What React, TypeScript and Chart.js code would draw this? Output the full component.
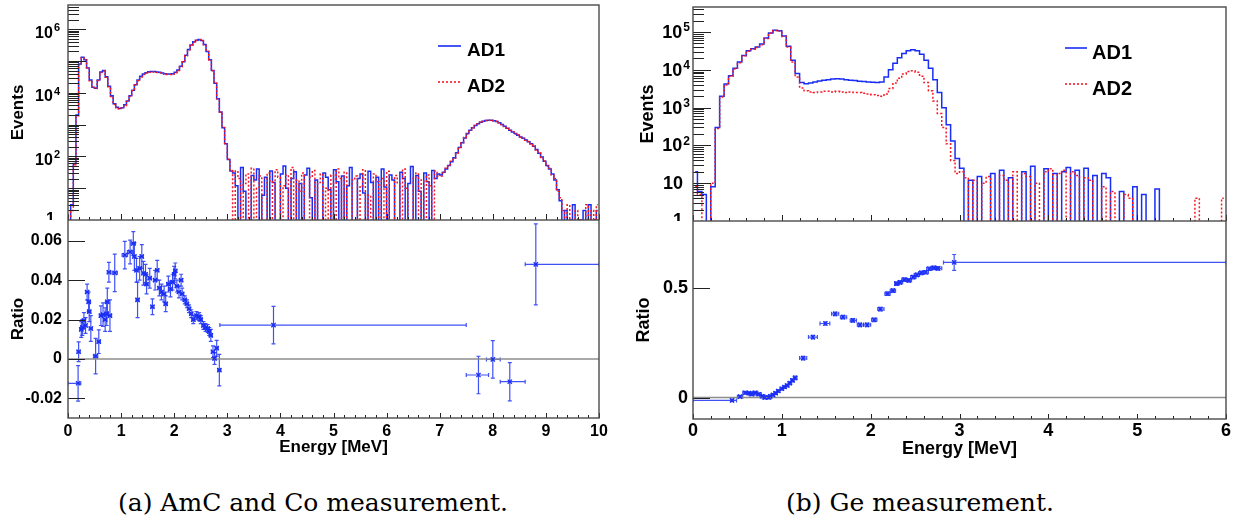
import React, { useEffect, useRef } from 'react';
import { Chart, registerables } from 'chart.js';
Chart.register(...registerables);

const FONT = "'Liberation Sans', Arial, Helvetica, sans-serif";
const BLUE = 'rgb(25,45,245)';
const RED = 'rgb(245,25,35)';

// ---------------- Panel (a): AmC and Co ----------------
const binWidthA = 0.05;
const ad1A = [
  0, 3, 60, 2000, 80000, 130000, 110000, 60000, 25000, 15000,
  14000, 25000, 45000, 50000, 32000, 16000, 8000, 4500, 3500, 3200,
  3400, 4200, 5500, 8000, 12000, 18000, 25000, 33000, 39000, 43000,
  46000, 47000, 47000, 45000, 44000, 42000, 40000, 39000, 39000, 40000,
  44000, 52000, 68000, 95000, 150000, 230000, 320000, 400000, 450000, 470000,
  440000, 330000, 200000, 110000, 50000, 20000, 6500, 2500, 800, 250,
  80, 35,
  30, 12, 0, 45, 8, 0, 0, 25, 18, 40, 0, 6, 22, 0, 35, 15, 0, 0, 28, 50,
  10, 0, 20, 33, 0, 14, 0, 26, 42, 5, 0, 18, 0, 0, 30, 22, 9, 0, 38, 16,
  0, 24, 0, 12, 45, 0, 0, 20, 28, 7, 0, 34, 15, 0, 22, 0, 40, 11, 0, 26,
  18, 0, 0, 32, 20, 0, 14, 48, 0, 25, 8, 0, 30, 16, 0, 36, 20, 28,
  26, 32, 40, 52, 68, 90, 130, 190, 270, 380,
  520, 660, 800, 930, 1060, 1180, 1270, 1340, 1380, 1370,
  1330, 1260, 1150, 1000, 880, 760, 660, 580, 520, 460,
  410, 370, 330, 290, 250, 210, 165, 125, 95, 70,
  52, 40, 28, 18, 9, 4,
  0, 2, 0, 1, 3, 0, 1, 0, 2, 0, 3, 0, 1, 2,
];
const ad2A = [
  0, 2, 55, 1900, 76000, 126000, 107000, 58000, 24000, 14500,
  13600, 24000, 43500, 48000, 31000, 15500, 7700, 4300, 3400, 3100,
  3300, 4000, 5300, 7700, 11500, 17200, 24000, 31500, 37500, 41500,
  44000, 45000, 45000, 43500, 42300, 40500, 38600, 37600, 37500, 38500,
  42300, 50200, 65800, 92000, 146000, 225000, 314000, 393000, 443000, 464000,
  436000, 326000, 197000, 108000, 49500, 19800, 6480, 2500, 810, 255,
  82, 36,
  0, 35, 20, 0, 14, 28, 0, 42, 0, 10, 24, 0, 0, 30, 16, 0, 38, 22, 0, 12,
  26, 0, 45, 0, 18, 8, 30, 0, 0, 22, 36, 0, 15, 28, 0, 10, 0, 26, 0, 40,
  20, 0, 32, 0, 0, 18, 24, 0, 12, 38, 0, 6, 0, 28, 16, 0, 20, 0, 34, 0,
  0, 25, 14, 0, 40, 10, 0, 0, 22, 30, 0, 18, 0, 26, 12, 0, 35, 24,
  24, 30, 42, 50, 70, 88, 125, 195, 265, 390,
  510, 670, 790, 940, 1050, 1190, 1260, 1350, 1370, 1380,
  1320, 1270, 1140, 1010, 870, 770, 650, 590, 510, 470,
  400, 375, 320, 295, 245, 215, 160, 130, 92, 72,
  50, 42, 26, 20, 8, 5,
  2, 0, 3, 0, 0, 2, 0, 1, 0, 3, 0, 2, 0, 3,
];
const energyTicksA = [0, 1, 2, 3, 4, 5, 6, 7, 8, 9, 10];
const eventsTicksA = [1, 1e2, 1e4, 1e6];
const ratioTicksA = [-0.02, 0, 0.02, 0.04, 0.06];

const ratioAE = [
  0.19, 0.20, 0.25, 0.27, 0.30, 0.33, 0.36, 0.39, 0.40, 0.43,
  0.52, 0.58, 0.62, 0.66, 0.70, 0.73, 0.74, 0.77, 0.79, 0.88,
  1.07, 1.17, 1.23, 1.25, 1.29, 1.31, 1.35, 1.39, 1.42, 1.46,
  1.48, 1.54, 1.59, 1.64, 1.68, 1.72, 1.76, 1.81, 1.84, 1.89,
  1.93, 1.97, 2.00, 2.02, 2.05, 2.09, 2.13, 2.15, 2.20, 2.24,
  2.28, 2.32, 2.36, 2.42, 2.47, 2.50, 2.55, 2.59, 2.63, 2.66,
  2.69, 2.73, 2.76, 2.80, 2.85, 3.87, 7.73, 8.00, 8.32, 8.81,
];
const ratioAV = [
  -0.0123, 0.0037, 0.0150, 0.0160, 0.0195, 0.0170, 0.0340, 0.0290, 0.0240, 0.0155,
  0.0015, 0.0088, 0.0220, 0.0225, 0.0200, 0.0230, 0.0290, 0.0440, 0.0220, 0.0437,
  0.0527, 0.0543, 0.0586, 0.0520, 0.0450, 0.0300, 0.0460, 0.0520, 0.0435, 0.0430,
  0.0380, 0.0410, 0.0265, 0.0400, 0.0450, 0.0360, 0.0340, 0.0330, 0.0280, 0.0380,
  0.0355, 0.0390, 0.0430, 0.0447, 0.0370, 0.0340, 0.0400, 0.0330, 0.0300, 0.0280,
  0.0255, 0.0230, 0.0200, 0.0220, 0.0215, 0.0200, 0.0170, 0.0160, 0.0155, 0.0140,
  0.0120, 0.0037, 0.0003, 0.0055, -0.0056, 0.0172, -0.0081, -0.0002, -0.0115, 0.0480,
];
const ratioAErr = [
  0.009, 0.005, 0.004, 0.004, 0.004, 0.004, 0.004, 0.005, 0.005, 0.0065,
  0.009, 0.006, 0.005, 0.006, 0.006, 0.006, 0.007, 0.005, 0.008, 0.0095,
  0.007, 0.006, 0.006, 0.007, 0.006, 0.009, 0.006, 0.006, 0.006, 0.005,
  0.005, 0.005, 0.004, 0.005, 0.005, 0.004, 0.004, 0.004, 0.004, 0.004,
  0.004, 0.004, 0.004, 0.004, 0.003, 0.003, 0.003, 0.003, 0.002, 0.002,
  0.002, 0.002, 0.002, 0.002, 0.002, 0.002, 0.002, 0.002, 0.002, 0.002,
  0.003, 0.003, 0.003, 0.004, 0.008, 0.0095, 0.0095, 0.0095, 0.0097, 0.0205,
];
const ratioAXLo = [
  0.00, 0.17, 0.22, 0.24, 0.27, 0.30, 0.33, 0.36, 0.37, 0.40,
  0.48, 0.55, 0.59, 0.63, 0.67, 0.70, 0.71, 0.74, 0.76, 0.83,
  1.02, 1.12, 1.19, 1.22, 1.26, 1.28, 1.32, 1.36, 1.39, 1.43,
  1.45, 1.51, 1.56, 1.61, 1.65, 1.69, 1.73, 1.78, 1.81, 1.86,
  1.90, 1.94, 1.97, 1.99, 2.02, 2.06, 2.10, 2.12, 2.17, 2.21,
  2.25, 2.29, 2.33, 2.39, 2.44, 2.47, 2.52, 2.56, 2.60, 2.63,
  2.66, 2.70, 2.73, 2.77, 2.82, 2.86, 7.50, 7.88, 8.14, 8.61,
];
const ratioAXHi = [
  0.24, 0.23, 0.28, 0.30, 0.33, 0.36, 0.39, 0.42, 0.43, 0.46,
  0.56, 0.61, 0.65, 0.69, 0.73, 0.76, 0.77, 0.80, 0.82, 0.93,
  1.12, 1.22, 1.27, 1.28, 1.32, 1.34, 1.38, 1.42, 1.45, 1.49,
  1.51, 1.57, 1.62, 1.67, 1.71, 1.75, 1.79, 1.84, 1.87, 1.92,
  1.96, 2.00, 2.03, 2.05, 2.08, 2.12, 2.16, 2.18, 2.23, 2.27,
  2.31, 2.35, 2.39, 2.45, 2.50, 2.53, 2.58, 2.62, 2.66, 2.69,
  2.72, 2.76, 2.79, 2.83, 2.88, 7.50, 7.92, 8.14, 8.61, 10.0,
];

// ---------------- Panel (b): Ge ----------------
const binWidthB = 0.05;
const ad1B = [
  20, 6, 5, 0, 8, 300, 2000, 4200, 7000, 11000,
  16000, 24000, 32000, 36000, 40000, 48000, 70000, 95000, 112000, 108000,
  78000, 42000, 18000, 8000, 4600, 4300, 4500, 4800, 5100, 5300,
  5500, 5700, 5800, 5700, 5500, 5300, 5200, 5000, 4900, 4800,
  4700, 4600, 4800, 6500, 10000, 15000, 21000, 27000, 32000, 34000,
  32000, 26000, 18000, 11000, 5500, 2500, 1000, 350, 130, 45,
  25, 0, 12, 0, 15, 0, 0, 18, 0, 22,
  0, 14, 0, 0, 20, 0, 28, 0, 0, 24,
  0, 18, 0, 20, 26, 0, 22, 0, 25, 0,
  16, 0, 18, 14, 0, 0, 6, 0, 0, 8,
  0, 5, 0, 0, 7, 0, 0, 0,
  0, 0, 0, 0, 0, 0, 0, 0, 0, 0, 0, 0,
];
const ad2B = [
  8, 5, 0, 0, 10, 280, 1900, 4000, 6800, 10500,
  15500, 23500, 31000, 35000, 39000, 46000, 68000, 93000, 110000, 106000,
  76000, 40000, 16000, 6500, 3300, 2800, 2600, 2500, 2600, 2700,
  2700, 2600, 2700, 2600, 2500, 2600, 2500, 2500, 2400, 2300,
  2200, 2100, 2000, 2300, 3200, 4500, 6000, 7800, 9000, 9400,
  8600, 6800, 4600, 2800, 1500, 700, 300, 110, 40, 18,
  20, 14, 0, 12, 0, 10, 15, 0, 0, 16,
  12, 0, 20, 0, 18, 15, 0, 10, 0, 20,
  24, 0, 18, 22, 0, 20, 16, 0, 14, 12,
  0, 0, 8, 0, 6, 0, 0, 5, 4, 0,
  0, 0, 0, 0, 0, 0, 0, 0,
  0, 0, 0, 0, 0, 4, 0, 0, 0, 0, 0, 4,
];
const energyTicksB = [0, 1, 2, 3, 4, 5, 6];
const eventsTicksB = [1, 10, 1e2, 1e3, 1e4, 1e5];
const ratioTicksB = [0, 0.5];

const ratioBE = [
  0.44, 0.53, 0.59, 0.63, 0.66, 0.70, 0.74, 0.78, 0.81, 0.85,
  0.87, 0.90, 0.93, 0.96, 1.00, 1.03, 1.06, 1.09, 1.12, 1.15,
  1.24, 1.35, 1.49, 1.60, 1.69, 1.80, 1.88, 1.96, 2.04, 2.11,
  2.19, 2.25, 2.29, 2.33, 2.38, 2.43, 2.48, 2.52, 2.57, 2.62,
  2.66, 2.71, 2.76, 2.94,
];
const ratioBV = [
  -0.013, 0.004, 0.022, 0.020, 0.015, 0.022, 0.015, 0.006, 0.000, 0.000,
  0.006, 0.012, 0.020, 0.030, 0.040, 0.048, 0.055, 0.066, 0.078, 0.090,
  0.180, 0.276, 0.338, 0.382, 0.367, 0.352, 0.332, 0.332, 0.355, 0.404,
  0.474, 0.488, 0.520, 0.526, 0.538, 0.535, 0.550, 0.560, 0.569, 0.572,
  0.588, 0.592, 0.590, 0.617,
];
const ratioBErr = [
  0.006, 0.006, 0.006, 0.006, 0.006, 0.006, 0.006, 0.006, 0.006, 0.006,
  0.006, 0.006, 0.006, 0.006, 0.006, 0.006, 0.006, 0.007, 0.007, 0.008,
  0.008, 0.008, 0.008, 0.008, 0.008, 0.008, 0.008, 0.008, 0.008, 0.008,
  0.008, 0.008, 0.008, 0.008, 0.008, 0.008, 0.008, 0.008, 0.008, 0.008,
  0.008, 0.008, 0.008, 0.036,
];
const ratioBXLo = [
  0.00, 0.50, 0.56, 0.60, 0.63, 0.67, 0.71, 0.75, 0.78, 0.82,
  0.85, 0.88, 0.91, 0.94, 0.98, 1.01, 1.04, 1.07, 1.10, 1.13,
  1.20, 1.30, 1.43, 1.56, 1.66, 1.77, 1.85, 1.92, 2.01, 2.08,
  2.16, 2.22, 2.27, 2.31, 2.35, 2.40, 2.45, 2.49, 2.54, 2.59,
  2.63, 2.68, 2.73, 2.82,
];
const ratioBXHi = [
  0.49, 0.56, 0.62, 0.66, 0.69, 0.73, 0.77, 0.81, 0.84, 0.88,
  0.89, 0.92, 0.95, 0.98, 1.02, 1.05, 1.08, 1.11, 1.14, 1.17,
  1.28, 1.40, 1.54, 1.64, 1.73, 1.84, 1.92, 2.00, 2.07, 2.15,
  2.22, 2.28, 2.32, 2.36, 2.41, 2.46, 2.51, 2.55, 2.60, 2.65,
  2.69, 2.74, 2.80, 6.00,
];

// ---------------- helpers ----------------
// empty bins are drawn below the log-axis floor (like ROOT does)
const EMPTY_BIN = 0.1;
function histPoints(values: number[], bw: number) {
  return values.map((v, i) => ({ x: (i + 0.5) * bw, y: v > 0 ? v : EMPTY_BIN }));
}

function ratioPoints(e: number[], v: number[]) {
  return e.map((x, i) => ({ x, y: v[i] }));
}

function zeroPad(s: any) {
  s.paddingTop = 0;
  s.paddingBottom = 0;
  s.paddingLeft = 0;
  s.paddingRight = 0;
}

// ROOT-style frame + inward tick marks (+ log labels with superscripts)
const rootAxesPlugin = {
  id: 'rootAxes',
  afterDatasetsDraw(chart: any, _a: any, o: any) {
    const { ctx, chartArea: a, scales } = chart;
    const xs = scales.x;
    const ys = scales.y;
    ctx.save();
    ctx.strokeStyle = '#222';
    ctx.lineWidth = 1;
    ctx.beginPath();
    const majors: number[] = o.xMajor;
    for (let k = 0; k < majors.length; k++) {
      const px = Math.round(xs.getPixelForValue(majors[k])) + 0.5;
      ctx.moveTo(px, a.bottom);
      ctx.lineTo(px, a.bottom - o.xMajLen);
      if (k < majors.length - 1) {
        const step = (majors[k + 1] - majors[k]) / 5;
        for (let j = 1; j < 5; j++) {
          const qx = Math.round(xs.getPixelForValue(majors[k] + j * step)) + 0.5;
          ctx.moveTo(qx, a.bottom);
          ctx.lineTo(qx, a.bottom - o.xMinLen);
        }
      }
    }
    if (o.yLog) {
      const maxExp = Math.floor(Math.log10(ys.max));
      for (let d = 0; d <= maxExp; d++) {
        for (let m = 1; m <= 9; m++) {
          const v = m * Math.pow(10, d);
          if (v > ys.max) break;
          const py = Math.round(ys.getPixelForValue(v)) + 0.5;
          ctx.moveTo(a.left, py);
          ctx.lineTo(a.left + (m === 1 ? o.yMajLen : o.yMinLen), py);
        }
      }
    } else {
      for (const v of o.yMajor) {
        const py = Math.round(ys.getPixelForValue(v)) + 0.5;
        ctx.moveTo(a.left, py);
        ctx.lineTo(a.left + o.yMajLen, py);
      }
    }
    ctx.stroke();
    ctx.strokeStyle = '#4a4a4a';
    ctx.lineWidth = 1.4;
    ctx.strokeRect(a.left, a.top, a.right - a.left, a.bottom - a.top);

    if (o.logLabels) {
      const L = o.logLabels;
      ctx.fillStyle = '#000';
      ctx.textBaseline = 'middle';
      ctx.textAlign = 'right';
      for (const v of L.values) {
        const py = ys.getPixelForValue(v);
        const e = Math.round(Math.log10(v));
        const right = a.left - L.pad;
        if (e <= 1) {
          ctx.font = `bold ${L.size}px ${FONT}`;
          ctx.fillText(String(v), a.left - L.onePad, py + (e === 0 ? L.oneOff : L.off));
        } else {
          ctx.font = `bold ${L.supSize}px ${FONT}`;
          const expStr = String(e);
          const ew = ctx.measureText(expStr).width;
          ctx.fillText(expStr, right, py + L.off - L.supRaise);
          ctx.font = `bold ${L.size}px ${FONT}`;
          ctx.fillText('10', right - ew - 1, py + L.off);
        }
      }
    }
    ctx.restore();
  },
};

const legendPlugin = {
  id: 'rootLegend',
  afterDraw(chart: any, _a: any, o: any) {
    if (!o || !o.items) return;
    const { ctx } = chart;
    ctx.save();
    o.items.forEach((it: any, i: number) => {
      const ly = o.lineY + i * o.dy;
      ctx.strokeStyle = it.color;
      ctx.lineWidth = 1.6;
      ctx.setLineDash(it.dash || []);
      ctx.beginPath();
      ctx.moveTo(o.x, ly);
      ctx.lineTo(o.x + o.len, ly);
      ctx.stroke();
      ctx.setLineDash([]);
      ctx.fillStyle = '#000';
      ctx.font = `bold ${o.size}px ${FONT}`;
      ctx.textBaseline = 'alphabetic';
      ctx.fillText(it.label, o.textX, o.baseY + i * o.dy);
    });
    ctx.restore();
  },
};

const errorBarPlugin = {
  id: 'errorBars',
  beforeDatasetsDraw(chart: any) {
    const { ctx, chartArea: a, scales } = chart;
    const xs = scales.x;
    const ys = scales.y;
    ctx.save();
    ctx.beginPath();
    ctx.rect(a.left, a.top, a.right - a.left, a.bottom - a.top);
    ctx.clip();
    chart.data.datasets.forEach((ds: any) => {
      if (!ds.errY) return;
      ctx.strokeStyle = ds.errColor;
      ctx.lineWidth = 1.2;
      ds.data.forEach((p: any, i: number) => {
        const px = xs.getPixelForValue(p.x);
        const py = ys.getPixelForValue(p.y);
        const x0 = xs.getPixelForValue(ds.xLo[i]);
        const x1 = xs.getPixelForValue(ds.xHi[i]);
        const y0 = ys.getPixelForValue(p.y - ds.errY[i]);
        const y1 = ys.getPixelForValue(p.y + ds.errY[i]);
        ctx.beginPath();
        ctx.moveTo(x0, py); ctx.lineTo(x1, py);
        ctx.moveTo(x0, py - 2); ctx.lineTo(x0, py + 2);
        ctx.moveTo(x1, py - 2); ctx.lineTo(x1, py + 2);
        ctx.moveTo(px, y0); ctx.lineTo(px, y1);
        ctx.moveTo(px - 2, y0); ctx.lineTo(px + 2, y0);
        ctx.moveTo(px - 2, y1); ctx.lineTo(px + 2, y1);
        ctx.stroke();
      });
    });
    ctx.restore();
  },
};

function topConfig(p: any) {
  return {
    type: 'line',
    data: {
      datasets: [
        { label: 'AD2', data: histPoints(p.ad2, p.bw), borderColor: RED, borderWidth: 1.5, borderDash: [2, 2], stepped: 'middle', pointRadius: 0, fill: false, order: 0 },
        { label: 'AD1', data: histPoints(p.ad1, p.bw), borderColor: BLUE, borderWidth: 1.5, stepped: 'middle', pointRadius: 0, fill: false, order: 1 },
      ],
    },
    options: {
      animation: false,
      responsive: false,
      devicePixelRatio: 1,
      layout: { autoPadding: false, padding: { left: 0, top: p.padTop, right: p.padRight, bottom: 0 } },
      scales: {
        x: { type: 'linear', min: 0, max: p.xMax, display: false, afterFit: zeroPad },
        y: {
          type: 'logarithmic',
          min: 1,
          max: p.yMax,
          afterBuildTicks: (s: any) => { s.ticks = p.yTicks.map((v: number) => ({ value: v })); },
          afterFit: (s: any) => { s.width = p.axisW; zeroPad(s); },
          grid: { display: false, drawTicks: false },
          border: { display: false },
          ticks: { display: false },
          title: { display: true, text: 'Events', color: '#000', font: { family: FONT, size: p.titleSize, weight: 'bold' }, padding: { top: p.titlePad, bottom: 0 } },
        },
      },
      plugins: {
        legend: { display: false },
        tooltip: { enabled: false },
        rootAxes: { xMajor: p.xTicks, xMajLen: 6, xMinLen: 3, yLog: true, yMajLen: 18, yMinLen: 11, logLabels: { values: p.yTicks, ...p.logLab } },
        rootLegend: p.legend,
      },
    },
    plugins: [rootAxesPlugin, legendPlugin],
  };
}

function ratioConfig(p: any) {
  return {
    type: 'scatter',
    data: {
      datasets: [
        {
          data: ratioPoints(p.e, p.v), errY: p.err, xLo: p.xLo, xHi: p.xHi, errColor: 'rgba(30,50,245,0.85)',
          pointStyle: 'crossRot', pointRadius: 3, borderColor: BLUE, backgroundColor: BLUE, borderWidth: 1.3, order: 0,
        },
        {
          data: [{ x: p.xTicks[0], y: 0 }, { x: p.xTicks[p.xTicks.length - 1], y: 0 }], showLine: true,
          borderColor: '#8c8c8c', borderWidth: 1.5, pointRadius: 0, order: 1,
        },
      ],
    },
    options: {
      animation: false,
      responsive: false,
      devicePixelRatio: 1,
      layout: { autoPadding: false, padding: { left: 0, top: 0, right: p.padRight, bottom: 0 } },
      scales: {
        x: {
          type: 'linear', min: p.xTicks[0], max: p.xTicks[p.xTicks.length - 1],
          afterBuildTicks: (s: any) => { s.ticks = p.xTicks.map((v: number) => ({ value: v })); },
          afterFit: (s: any) => { s.height = p.xAxisH; zeroPad(s); },
          grid: { display: false, drawTicks: false },
          border: { display: false },
          ticks: { autoSkip: false, maxRotation: 0, padding: p.xTickPad, color: '#000', font: { family: FONT, size: p.tickSize, weight: 'bold' }, callback: (v: any) => String(v) },
          title: { display: true, text: 'Energy [MeV]', color: '#000', font: { family: FONT, size: p.titleSize, weight: 'bold' }, padding: { top: 0, bottom: 0 } },
        },
        y: {
          type: 'linear', min: p.yMin, max: p.yMax,
          afterBuildTicks: (s: any) => { s.ticks = p.yTicks.map((v: number) => ({ value: v })); },
          afterFit: (s: any) => { s.width = p.axisW; zeroPad(s); },
          grid: { display: false, drawTicks: false },
          border: { display: false },
          ticks: { autoSkip: false, padding: p.yTickPad, color: '#000', font: { family: FONT, size: p.tickSize, weight: 'bold' }, callback: (v: any) => (Number(v) === 0 ? '0' : String(p.yFmt(Number(v)))) },
          title: { display: true, text: 'Ratio', color: '#000', font: { family: FONT, size: p.titleSize, weight: 'bold' }, padding: { top: p.titlePad, bottom: 0 } },
        },
      },
      plugins: {
        legend: { display: false },
        tooltip: { enabled: false },
        rootAxes: { xMajor: p.xTicks, xMajLen: 5, xMinLen: 3, yLog: false, yMajor: p.yTicks, yMajLen: 17 },
      },
    },
    plugins: [rootAxesPlugin, errorBarPlugin],
  };
}

function ChartBox({ left, top, width, height, make }: any) {
  const ref = useRef<HTMLCanvasElement>(null);
  useEffect(() => {
    const chart = new Chart(ref.current as HTMLCanvasElement, make());
    return () => chart.destroy();
  }, []);
  return <canvas ref={ref} width={width} height={height} style={{ position: 'absolute', left, top, width, height }} />;
}

export default function App() {
  const topA = () => topConfig({
    ad1: ad1A, ad2: ad2A, bw: binWidthA, xMax: 10, yMax: 5.75e6, yTicks: eventsTicksA, xTicks: energyTicksA,
    padTop: 5, padRight: 21, axisW: 68, titleSize: 17, titlePad: 8,
    logLab: { size: 16, supSize: 11, pad: 8, onePad: 13, off: 4, oneOff: 0, supRaise: 5 },
    legend: { x: 438, len: 23, lineY: 46, textX: 467, baseY: 56, dy: 36, size: 19,
      items: [{ label: 'AD1', color: BLUE }, { label: 'AD2', color: RED, dash: [2, 2] }] },
  });
  const topB = () => topConfig({
    ad1: ad1B, ad2: ad2B, bw: binWidthB, xMax: 6, yMax: 4.6e5, yTicks: eventsTicksB, xTicks: energyTicksB,
    padTop: 7, padRight: 15, axisW: 73, titleSize: 18, titlePad: 17,
    logLab: { size: 18, supSize: 12, pad: 3, onePad: 10, off: 1, oneOff: 0, supRaise: 5 },
    legend: { x: 445, len: 22, lineY: 48, textX: 472, baseY: 59, dy: 36, size: 20,
      items: [{ label: 'AD1', color: BLUE }, { label: 'AD2', color: RED, dash: [2, 2] }] },
  });
  const ratA = () => ratioConfig({
    e: ratioAE, v: ratioAV, err: ratioAErr, xLo: ratioAXLo, xHi: ratioAXHi, xTicks: energyTicksA, yTicks: ratioTicksA,
    yMin: -0.0299, yMax: 0.0705, padRight: 21, axisW: 68, xAxisH: 40, xTickPad: 4, yTickPad: 6, tickSize: 16, titleSize: 17, titlePad: 8,
    yFmt: (v: number) => v.toFixed(2),
  });
  const ratB = () => ratioConfig({
    e: ratioBE, v: ratioBV, err: ratioBErr, xLo: ratioBXLo, xHi: ratioBXHi, xTicks: energyTicksB, yTicks: ratioTicksB,
    yMin: -0.098, yMax: 0.806, padRight: 15, axisW: 73, xAxisH: 41, xTickPad: 1, yTickPad: 5, tickSize: 18, titleSize: 18, titlePad: 13,
    yFmt: (v: number) => v.toFixed(1),
  });
  const cap: React.CSSProperties = { position: 'absolute', top: 488, textAlign: 'center', fontFamily: "'DejaVu Serif', serif", fontSize: 25, lineHeight: '29px', color: '#000', whiteSpace: 'nowrap' };
  return (
    <div style={{ position: 'absolute', left: 0, top: 0, width: 1241, height: 529, background: '#fff', overflow: 'hidden' }}>
      <ChartBox left={0} top={0} width={620} height={220} make={topA} />
      <ChartBox left={0} top={220} width={620} height={238} make={ratA} />
      <ChartBox left={620} top={0} width={621} height={221} make={topB} />
      <ChartBox left={620} top={221} width={621} height={239} make={ratB} />
      <div style={{ ...cap, left: 113, width: 400 }}>(a) AmC and Co measurement.</div>
      <div style={{ ...cap, left: 770, width: 300 }}>(b) Ge measurement.</div>
    </div>
  );
}
